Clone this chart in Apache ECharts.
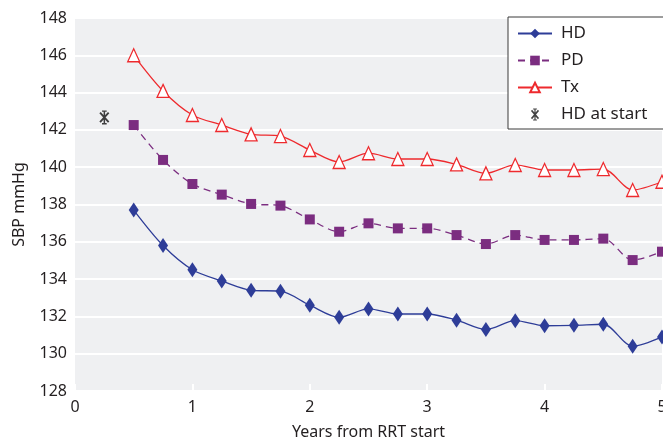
<!DOCTYPE html>
<html>
<head>
<meta charset="utf-8">
<script src="https://cdn.jsdelivr.net/npm/echarts@6/dist/echarts.min.js"></script>
<style>
html,body{margin:0;padding:0;background:#fff;}
#chart{width:663px;height:446px;}
</style>
</head>
<body>
<div id="chart"></div>
<script>
const years = [0.5, 0.75, 1, 1.25, 1.5, 1.75, 2, 2.25, 2.5, 2.75, 3, 3.25, 3.5, 3.75, 4, 4.25, 4.5, 4.75, 5];
const hdValues = [137.7, 135.8, 134.5, 133.9, 133.4, 133.35, 132.6, 131.95, 132.4, 132.13, 132.13, 131.8, 131.3, 131.77, 131.5, 131.52, 131.58, 130.4, 130.9];
const pdValues = [142.26, 140.39, 139.1, 138.53, 138.03, 137.94, 137.2, 136.54, 136.99, 136.72, 136.72, 136.36, 135.88, 136.36, 136.1, 136.1, 136.17, 135.02, 135.47];
const txValues = [146.0, 144.09, 142.8, 142.26, 141.76, 141.67, 140.92, 140.28, 140.75, 140.44, 140.44, 140.15, 139.67, 140.12, 139.85, 139.85, 139.9, 138.78, 139.22];
const hdStartX = [0.25];
const hdStartY = [142.67];
const yTicks = {min: 128, max: 148, step: 2};
const xTicks = {min: 0, max: 5, step: 1};

const FONT = 'Noto Sans';
const TXT = '#231f20';
const pair = (xs, ys) => xs.map((x, i) => [x, ys[i]]);

const starPath = 'path://M4.3 0 L5.7 0 L5.7 14 L4.3 14 Z M0.3 2.8 L1.6 1.6 L9.7 11.2 L8.4 12.4 Z M9.7 2.8 L1.6 12.4 L0.3 11.2 L8.4 1.6 Z M2.8 0 L7.2 0 L7.2 1.3 L2.8 1.3 Z M2.8 12.7 L7.2 12.7 L7.2 14 L2.8 14 Z';

const chart = echarts.init(document.getElementById('chart'), null, {renderer: 'canvas'});
chart.setOption({
  animation: false,
  textStyle: {fontFamily: FONT},
  grid: {left: 75, right: 1, top: 18, bottom: 55, show: true, backgroundColor: '#eff0f2', borderWidth: 0, containLabel: false, outerBoundsMode: 'none'},
  legend: {
    left: 508, top: 17,
    orient: 'vertical',
    backgroundColor: '#ffffff',
    borderColor: '#3a3a3a', borderWidth: 1, borderRadius: 0,
    padding: [8, 40, 6, 9],
    itemWidth: 34, itemHeight: 12, itemGap: 10,
    textStyle: {fontFamily: FONT, fontSize: 17, color: TXT, lineHeight: 17, padding: [0, 0, 0, 4]},
    data: ['HD', 'PD', 'Tx', 'HD at start']
  },
  xAxis: {
    type: 'value', min: xTicks.min, max: xTicks.max, interval: xTicks.step,
    name: 'Years from RRT start', nameLocation: 'middle', nameGap: 33,
    nameTextStyle: {fontFamily: FONT, fontSize: 16, color: TXT},
    axisLine: {show: false},
    axisTick: {show: true, inside: true, length: 7, lineStyle: {color: '#ffffff', width: 2}},
    axisLabel: {fontFamily: FONT, fontSize: 16, color: TXT, margin: 8},
    splitLine: {show: false}
  },
  yAxis: {
    type: 'value', min: yTicks.min, max: yTicks.max, interval: yTicks.step,
    name: 'SBP mmHg', nameLocation: 'middle', nameGap: 48, nameRotate: 90,
    nameTextStyle: {fontFamily: FONT, fontSize: 16, color: TXT},
    axisLine: {show: false}, axisTick: {show: false},
    axisLabel: {fontFamily: FONT, fontSize: 16, color: TXT, margin: 8},
    splitLine: {show: true, lineStyle: {color: '#ffffff', width: 2}}
  },
  series: [
    {
      name: 'HD', type: 'line', smooth: 0.3, data: pair(years, hdValues),
      symbol: 'diamond', symbolSize: [10, 15],
      lineStyle: {color: '#2e3d98', width: 1.3},
      itemStyle: {color: '#2e3d98'}
    },
    {
      name: 'PD', type: 'line', smooth: 0.3, data: pair(years, pdValues),
      symbol: 'rect', symbolSize: 10,
      lineStyle: {color: '#7b2d80', width: 1.3, type: [7, 5]},
      itemStyle: {color: '#7b2d80'}
    },
    {
      name: 'Tx', type: 'line', smooth: 0.3, data: pair(years, txValues),
      symbol: 'triangle', symbolSize: [12, 13],
      lineStyle: {color: '#ee2a2e', width: 1.3},
      itemStyle: {color: '#ffffff', borderColor: '#ee2a2e', borderWidth: 1.3}
    },
    {
      name: 'HD at start', type: 'scatter', data: pair(hdStartX, hdStartY),
      symbol: starPath, symbolSize: [10, 14],
      itemStyle: {color: '#111111'}
    }
  ]
});
</script>
</body>
</html>
